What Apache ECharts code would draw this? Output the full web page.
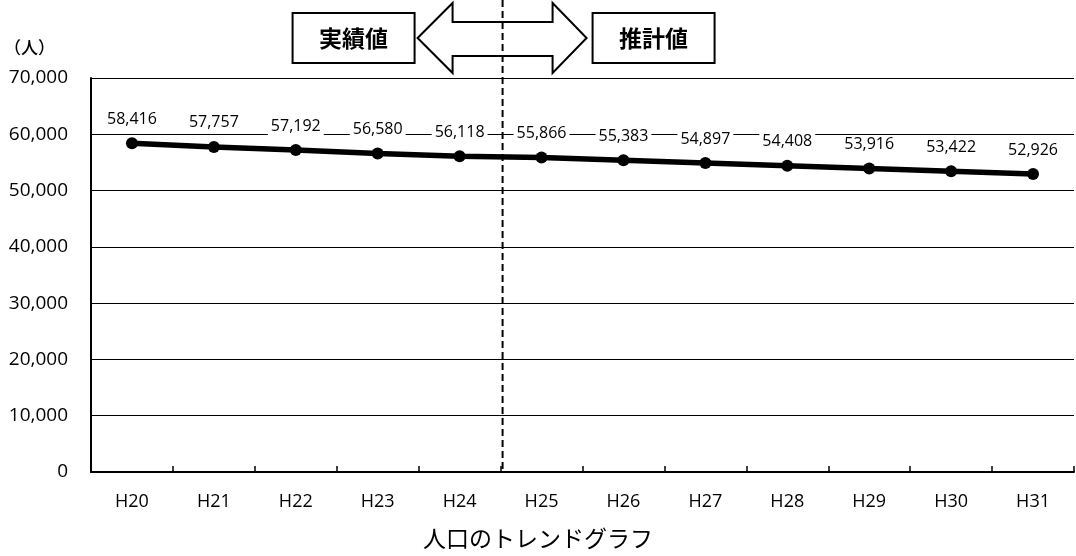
<!DOCTYPE html>
<html>
<head>
<meta charset="utf-8">
<script src="https://cdn.jsdelivr.net/npm/echarts@6/dist/echarts.min.js"></script>
<style>
  html, body { margin: 0; padding: 0; background: #fff; }
  #chart { width: 1076px; height: 556px; }
</style>
</head>
<body>
<div id="chart"></div>
<script>
// Fiscal years (Heisei) and population counts
const categories = ['H20', 'H21', 'H22', 'H23', 'H24', 'H25', 'H26', 'H27', 'H28', 'H29', 'H30', 'H31'];
const population = [58416, 57757, 57192, 56580, 56118, 55866, 55383, 54897, 54408, 53916, 53422, 52926];
// Value axis range and step
const yMin = 0;
const yMax = 70000;
const yStep = 10000;
// Number of years that are recorded values; the rest are projections
const actualYears = 5;
const panelLabels = ['実績値', '推計値'];
const unitLabel = '（人）';
const chartTitle = '人口のトレンドグラフ';

const fontLatin = '"Open Sans", "Noto Sans CJK JP", sans-serif';
const fontJP = '"Noto Sans CJK JP", sans-serif';

const chart = echarts.init(document.getElementById('chart'), null, { renderer: 'canvas' });

const option = {
  animation: false,
  backgroundColor: '#fff',
  title: {
    text: chartTitle,
    left: 'center',
    bottom: 1,
    textStyle: { fontFamily: fontJP, fontSize: 23, fontWeight: 'normal', color: '#000' }
  },
  grid: { left: 91, right: 2, top: 78, bottom: 84 },
  xAxis: {
    type: 'category',
    data: categories,
    boundaryGap: true,
    axisLine: { lineStyle: { color: '#000', width: 2 } },
    axisTick: { show: true, inside: true, length: 6, alignWithLabel: false, lineStyle: { color: '#000', width: 1.5 } },
    axisLabel: { margin: 21, fontFamily: fontLatin, fontSize: 18, fontWeight: 'normal', color: '#000' }
  },
  yAxis: {
    type: 'value',
    min: yMin,
    max: yMax,
    interval: yStep,
    name: unitLabel,
    nameLocation: 'end',
    nameGap: 22,
    nameTextStyle: { fontFamily: fontJP, fontSize: 17, fontWeight: 500, color: '#000', align: 'right', padding: [0, 36, 0, 0] },
    axisLine: { show: true, lineStyle: { color: '#000', width: 2 } },
    axisTick: { show: true, inside: true, length: 5, lineStyle: { color: '#000' } },
    axisLabel: {
      margin: 23,
      fontFamily: fontLatin,
      fontSize: 19,
      fontWeight: 'normal',
      color: '#000',
      formatter: v => v.toLocaleString('en-US')
    },
    splitLine: { show: true, lineStyle: { color: '#000', width: 1.2 } }
  },
  series: [{
    type: 'line',
    data: population,
    symbol: 'circle',
    symbolSize: 12,
    lineStyle: { color: '#000', width: 5.5 },
    itemStyle: { color: '#000' },
    label: {
      show: true,
      position: 'top',
      distance: 9,
      fontFamily: fontLatin,
      fontSize: 16,
      color: '#000',
      backgroundColor: '#fff',
      padding: [1, 3],
      formatter: p => p.value.toLocaleString('en-US')
    },
    z: 5
  }]
};

chart.setOption(option);

// Divider between recorded and projected years, with the double arrow and panel boxes
function drawDivider() {
  const xa = chart.convertToPixel({ xAxisIndex: 0 }, categories[actualYears - 1]);
  const xb = chart.convertToPixel({ xAxisIndex: 0 }, categories[actualYears]);
  const cx = (xa + xb) / 2 + 2;
  const yBottom = chart.convertToPixel({ yAxisIndex: 0 }, yMin);
  const cy = 38;

  chart.setOption({
    graphic: [
      {
        type: 'polygon',
        z: 20,
        shape: {
          points: [
            [cx - 85, cy],
            [cx - 50, cy - 35],
            [cx - 50, cy - 16],
            [cx + 50, cy - 16],
            [cx + 50, cy - 35],
            [cx + 84, cy],
            [cx + 50, cy + 35],
            [cx + 50, cy + 18],
            [cx - 50, cy + 18],
            [cx - 50, cy + 35]
          ]
        },
        style: { fill: '#fff', stroke: '#000', lineWidth: 2 }
      },
      {
        type: 'line',
        z: 30,
        shape: { x1: cx, y1: 0, x2: cx, y2: yBottom },
        style: { stroke: '#000', lineWidth: 2, lineDash: [7, 4] }
      },
      {
        type: 'group',
        z: 20,
        children: [
          {
            type: 'rect',
            shape: { x: cx - 210, y: 13, width: 122, height: 50 },
            style: { fill: '#fff', stroke: '#000', lineWidth: 2 }
          },
          {
            type: 'text',
            style: {
              x: cx - 149, y: 38, text: panelLabels[0],
              align: 'center', verticalAlign: 'middle',
              font: 'bold 23px "Noto Sans CJK JP", sans-serif', fill: '#000'
            }
          },
          {
            type: 'rect',
            shape: { x: cx + 90, y: 13, width: 122, height: 50 },
            style: { fill: '#fff', stroke: '#000', lineWidth: 2 }
          },
          {
            type: 'text',
            style: {
              x: cx + 151, y: 38, text: panelLabels[1],
              align: 'center', verticalAlign: 'middle',
              font: 'bold 23px "Noto Sans CJK JP", sans-serif', fill: '#000'
            }
          }
        ]
      }
    ]
  });
}

drawDivider();
</script>
</body>
</html>
